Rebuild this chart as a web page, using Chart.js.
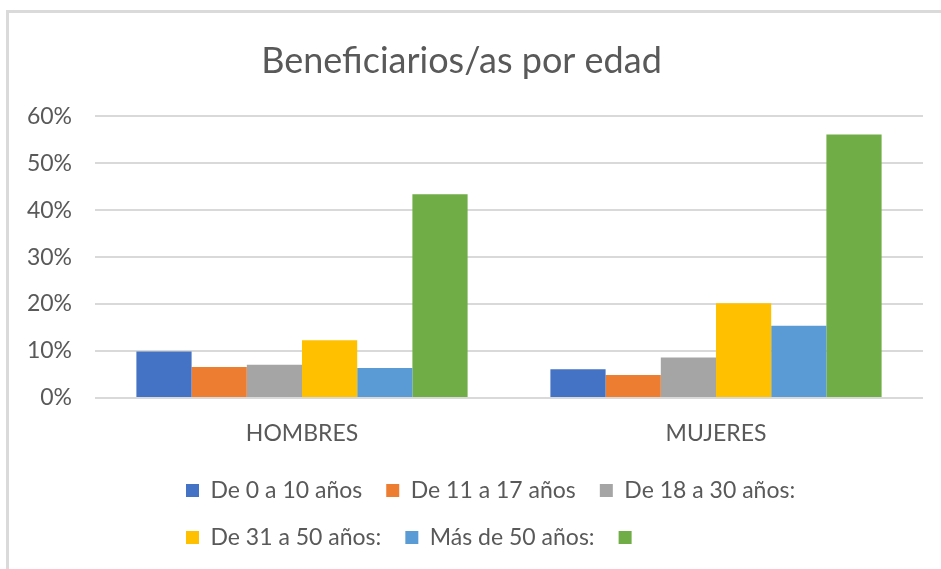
<!DOCTYPE html>
<html lang="es">
<head>
<meta charset="utf-8">
<title>Beneficiarios/as por edad</title>
<script src="https://cdn.jsdelivr.net/npm/chart.js@4"></script>
<style>
    html, body { margin: 0; padding: 0; background: #fff; overflow: hidden; }
    .wrap { position: relative; width: 941px; height: 569px; }
    .frame { position: absolute; left: 6px; top: 10px; width: 1000px; height: 1000px;
             border: 3px solid #dadada; box-sizing: border-box; }
    .wrap canvas { position: absolute; left: 0; top: 0; }
</style>
</head>
<body>
<div class="wrap">
    <div class="frame"></div>
    <canvas id="edadChart"></canvas>
</div>
<script>
// categorías (eje X)
const categorias = ['HOMBRES', 'MUJERES'];

// series (leyenda) - la última no tiene nombre en el original
const grupos = ['De 0 a 10 años', 'De 11 a 17 años', 'De 18 a 30 años:', 'De 31 a 50 años:', 'Más de 50 años:', ''];

// porcentajes por grupo de edad
const hombres = [9.9, 6.6, 7.1, 12.3, 6.4, 43.4];
const mujeres = [6.1, 4.9, 8.6, 20.2, 15.4, 56.1];

// eje Y
const yTicks = [0, 10, 20, 30, 40, 50, 60];

const colores = ['#4472C4', '#ED7D31', '#A5A5A5', '#FFC000', '#5B9BD5', '#70AD47'];
const gris = '#595959';
const fuente = 'Lato, "Open Sans", sans-serif';

// mover la leyenda para que las filas empiecen alineadas a la izquierda como en Excel
const legendShift = {
    id: 'legendShift',
    afterLayout(chart) {
        if (chart.legend) chart.legend.left = 186 - chart.legend.options.labels.padding;
    }
};

document.addEventListener('DOMContentLoaded', () => {
    const ctx = document.getElementById('edadChart').getContext('2d');

    const datasets = grupos.map((g, i) => ({
        label: g,
        data: [hombres[i], mujeres[i]],
        backgroundColor: colores[i],
        borderWidth: 0
    }));

    new Chart(ctx, {
        type: 'bar',
        data: { labels: categorias, datasets },
        plugins: [legendShift],
        options: {
            responsive: true,
            maintainAspectRatio: false,
            animation: false,
            datasets: { bar: { categoryPercentage: 0.8, barPercentage: 1.0 } },
            layout: { padding: { left: 0, right: 18, top: 0, bottom: 10 } },
            plugins: {
                title: {
                    display: true,
                    text: 'Beneficiarios/as por edad',
                    color: gris,
                    font: { family: fuente, size: 36, weight: 'normal' },
                    padding: { top: 40, bottom: 33 }
                },
                legend: {
                    position: 'bottom',
                    align: 'start',
                    labels: {
                        color: gris,
                        font: { family: fuente, size: 23 },
                        boxWidth: 13,
                        boxHeight: 13,
                        padding: 24
                    }
                },
                tooltip: { enabled: false }
            },
            scales: {
                x: {
                    grid: { display: false, drawTicks: false },
                    border: { display: false },
                    ticks: { color: gris, font: { family: fuente, size: 23 }, padding: 22 },
                    afterFit(scale) { scale.height = 57; }
                },
                y: {
                    min: yTicks[0],
                    max: yTicks[yTicks.length - 1],
                    afterBuildTicks(scale) { scale.ticks = yTicks.map(v => ({ value: v })); },
                    grid: { color: '#d9d9d9', lineWidth: 2, drawTicks: false },
                    border: { display: false },
                    ticks: {
                        color: gris,
                        font: { family: fuente, size: 23 },
                        padding: 23,
                        callback: v => v + '%'
                    },
                    afterFit(scale) { scale.width = 95; }
                }
            }
        }
    });
});
</script>
</body>
</html>
